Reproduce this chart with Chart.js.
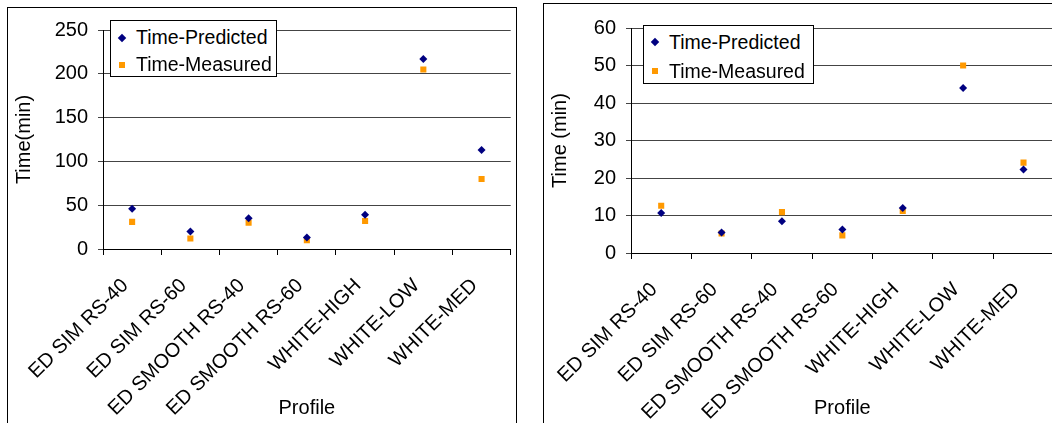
<!DOCTYPE html>
<html>
<head>
<meta charset="utf-8">
<script src="https://cdn.jsdelivr.net/npm/chart.js@4/dist/chart.umd.min.js"></script>
<style>
  body { margin: 0; width: 1052px; height: 423px; overflow: hidden; background: #fff; position: relative;
         font-family: "Liberation Sans", Arial, sans-serif; }
  .frame { position: absolute; border: 1px solid #000; border-bottom: none; }
  .wrap { position: absolute; }
  .legend { position: absolute; border: 1px solid #000; background: #fff; font-size: 19.5px; color: #000; box-sizing: border-box; }
  .legend .row { position: relative; height: 27px; line-height: 27px; padding-left: 25px; white-space: nowrap; }
  #legendB .row { height: 28.5px; line-height: 28.5px; }
  .legend .mk { position: absolute; top: 50%; }
</style>
</head>
<body>
<div class="frame" style="left:7px;top:7px;width:508px;height:430px;"></div>
<div class="frame" style="left:543px;top:3px;width:530px;height:430px;"></div>

<div class="wrap" style="left:8px;top:8px;"><canvas id="chartA" width="507" height="415"></canvas></div>
<div class="wrap" style="left:544px;top:4px;"><canvas id="chartB" width="514" height="419"></canvas></div>

<div class="legend" id="legendA" style="left:110px;top:20px;width:167px;height:57px;padding-top:3px;"></div>
<div class="legend" id="legendB" style="left:643px;top:25px;width:171px;height:59px;padding-top:2px;"></div>

<script>
// categories
var profiles = ["ED SIM RS-40", "ED SIM RS-60", "ED SMOOTH RS-40", "ED SMOOTH RS-60", "WHITE-HIGH", "WHITE-LOW", "WHITE-MED"];
var seriesNames = ["Time-Predicted", "Time-Measured"];

// left chart (minutes)
var predictedA = [46, 20, 35, 13, 39, 217, 113];
var measuredA  = [31, 12, 30, 10, 32, 205, 80];
var yTicksA = [0, 50, 100, 150, 200, 250];

// right chart (minutes)
var predictedB = [10.7, 5.5, 8.5, 6.3, 12.0, 44.0, 22.3];
var measuredB  = [12.6, 5.2, 10.9, 4.7, 11.2, 50.0, 24.1];
var yTicksB = [0, 10, 20, 30, 40, 50, 60];

var FONT = { family: '"Liberation Sans", Arial, sans-serif', size: 20 };
var NAVY = '#000080', ORANGE = '#FF9900';

function buildLegend(id, chart) {
    var box = document.getElementById(id);
    chart.data.datasets.forEach(function(ds) {
        var row = document.createElement('div');
        row.className = 'row';
        var mk = document.createElement('span');
        mk.className = 'mk';
        if (ds.pointStyle === 'rectRot') {
            mk.style.cssText = 'left:8px;width:6px;height:6px;margin-top:-3px;transform:rotate(45deg);background:' + ds.backgroundColor;
        } else {
            mk.style.cssText = 'left:8px;width:6px;height:6px;margin-top:-3px;background:' + ds.backgroundColor;
        }
        row.appendChild(mk);
        row.appendChild(document.createTextNode(ds.label));
        box.appendChild(row);
    });
}

function makeChart(canvasId, legendId, pred, meas, yTicks, yTitle, yWidth, xHeight, padTop) {
    var chart = new Chart(document.getElementById(canvasId), {
        type: 'line',
        data: {
            labels: profiles,
            datasets: [{
                label: seriesNames[0],
                data: pred,
                showLine: false,
                pointStyle: 'rectRot',
                pointRadius: 4,
                pointHoverRadius: 4,
                backgroundColor: NAVY,
                borderColor: NAVY,
                pointBorderWidth: 0
            }, {
                label: seriesNames[1],
                data: meas,
                showLine: false,
                pointStyle: 'rect',
                pointRadius: 4.3,
                pointHoverRadius: 4.3,
                backgroundColor: ORANGE,
                borderColor: ORANGE,
                pointBorderWidth: 0
            }]
        },
        options: {
            responsive: false,
            animation: false,
            layout: { padding: { top: padTop, right: 1, left: 0, bottom: 0 } },
            plugins: { legend: { display: false }, tooltip: { enabled: false } },
            scales: {
                x: {
                    type: 'category',
                    offset: true,
                    grid: { offset: true, drawOnChartArea: false, drawTicks: true, tickLength: 6, color: '#000' },
                    border: { color: '#000' },
                    ticks: { minRotation: 45, maxRotation: 45, autoSkip: false, color: '#000', font: FONT, padding: 19, labelOffset: -7 },
                    title: { display: true, text: 'Profile', color: '#000', font: FONT, padding: { top: 4, bottom: 3 } },
                    afterFit: function(s) {
                        // fixed axis band, and keep the rotated labels from squeezing the plot
                        s.height = xHeight;
                        s.paddingLeft = 0;
                        s.paddingRight = 0;
                    }
                },
                y: {
                    min: yTicks[0],
                    max: yTicks[yTicks.length - 1],
                    ticks: { stepSize: yTicks[1] - yTicks[0], color: '#000', font: FONT, padding: 10 },
                    grid: { color: '#444', tickLength: 5 },
                    border: { color: '#000' },
                    title: { display: true, text: yTitle, color: '#000', font: FONT },
                    afterFit: function(s) { s.width = yWidth; }
                }
            }
        }
    });
    buildLegend(legendId, chart);
    return chart;
}

makeChart('chartA', 'legendA', predictedA, measuredA, yTicksA, 'Time(min)', 95, 174, 17);
makeChart('chartB', 'legendB', predictedB, measuredB, yTicksB, 'Time (min)', 87, 170, 24);
</script>
</body>
</html>
